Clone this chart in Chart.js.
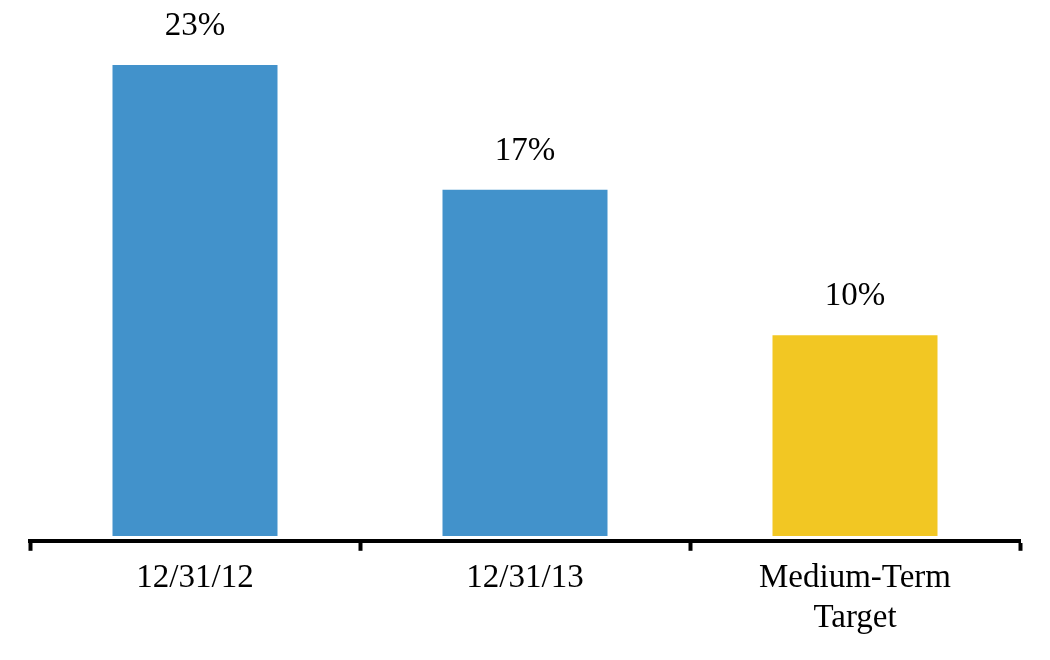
<!DOCTYPE html>
<html>
<head>
<meta charset="utf-8">
<script src="https://cdn.jsdelivr.net/npm/chart.js@4/dist/chart.umd.min.js"></script>
<style>
  html, body { margin: 0; padding: 0; background: #ffffff; }
  #wrap { width: 1050px; height: 660px; }
</style>
</head>
<body>
<div id="wrap"><canvas id="ratioChart" width="1050" height="660"></canvas></div>
<script>
// Chart data
const categories = ['12/31/12', '12/31/13', ['Medium-Term', 'Target']];
const ratioValues = [23, 16.9, 9.8];
const valueLabels = ['23%', '17%', '10%'];
const barColors = ['#4292cb', '#4292cb', '#f2c723'];

const fontFamily = '"Liberation Serif", "Times New Roman", serif';

// Draw the percentage above each bar
const valueLabelPlugin = {
    id: 'valueLabels',
    afterDatasetsDraw(chart) {
        const ctx = chart.ctx;
        const meta = chart.getDatasetMeta(0);
        ctx.save();
        ctx.font = '33px ' + fontFamily;
        ctx.fillStyle = '#000000';
        ctx.textAlign = 'center';
        ctx.textBaseline = 'alphabetic';
        meta.data.forEach((bar, i) => {
            ctx.fillText(valueLabels[i], bar.x, bar.y - 30);
        });
        ctx.restore();
    }
};

const ctx = document.getElementById('ratioChart').getContext('2d');
const ratioChart = new Chart(ctx, {
    type: 'bar',
    data: {
        labels: categories,
        datasets: [{
            data: ratioValues,
            backgroundColor: barColors,
            borderWidth: 0,
            base: 0,
            barPercentage: 0.5,
            categoryPercentage: 1.0
        }]
    },
    options: {
        responsive: false,
        animation: false,
        layout: {
            padding: { top: 24, left: 30, right: 30, bottom: 14 }
        },
        plugins: {
            legend: { display: false },
            tooltip: { enabled: false }
        },
        scales: {
            x: {
                grid: {
                    display: true,
                    offset: true,
                    drawOnChartArea: false,
                    drawTicks: true,
                    tickLength: 10,
                    tickWidth: 4,
                    tickColor: '#000000'
                },
                border: {
                    display: true,
                    color: '#000000',
                    width: 4
                },
                ticks: {
                    color: '#000000',
                    padding: 8,
                    maxRotation: 0,
                    font: { family: fontFamily, size: 33, lineHeight: 1.2 }
                }
            },
            y: {
                display: false,
                min: -0.24,
                max: 25
            }
        }
    },
    plugins: [valueLabelPlugin]
});
</script>
</body>
</html>
